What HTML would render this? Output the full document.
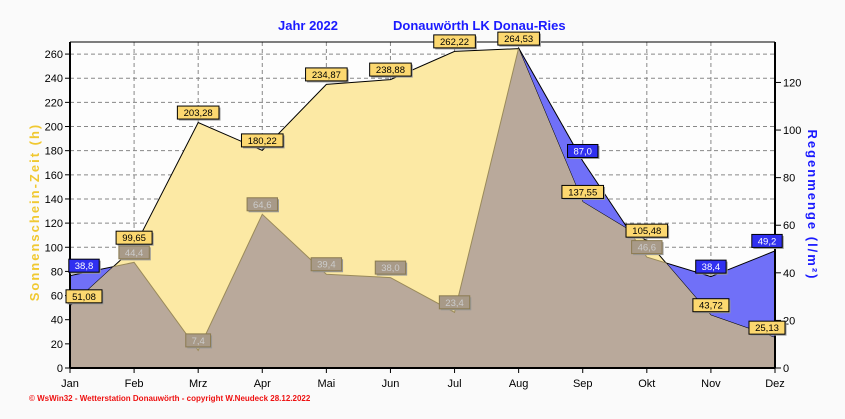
<!DOCTYPE html>
<html><head><meta charset="utf-8"><style>
body{margin:0;background:#fafafa;font-family:"Liberation Sans",sans-serif}
svg{display:block}
</style></head><body>
<svg id="chart" width="845" height="419" viewBox="0 0 845 419" xmlns="http://www.w3.org/2000/svg">
<rect x="0" y="0" width="845" height="419" fill="#fafafa"/>
<rect x="70" y="42" width="705" height="326" fill="#fdfdfd"/>
<text x="278" y="30" font-size="13" font-weight="bold" fill="#1a1aff">Jahr  2022</text>
<text x="393" y="30" font-size="13" font-weight="bold" fill="#1a1aff">Donauwörth LK Donau-Ries</text>
<g id="grid"></g>
<g id="areas"></g>
<g id="axes"></g>
<g id="labels"></g>
<text transform="translate(39,212) rotate(-90)" text-anchor="middle" font-size="13" font-weight="bold" letter-spacing="2" fill="#f0c830">Sonnenschein-Zeit  (h)</text>
<text transform="translate(808,205) rotate(90)" text-anchor="middle" font-size="13" font-weight="bold" letter-spacing="2" fill="#1a1aff">Regenmenge  (l/m²)</text>
<text x="29" y="401" font-size="8" font-weight="bold" fill="#ee1111">© WsWin32 - Wetterstation Donauwörth - copyright W.Neudeck  28.12.2022</text>
</svg>
<script>
const months=["Jan","Feb","Mrz","Apr","Mai","Jun","Jul","Aug","Sep","Okt","Nov","Dez"];
const sunHours=[51.08,99.65,203.28,180.22,234.87,238.88,262.22,264.53,137.55,105.48,43.72,25.13];
const rainMm=[38.8,44.4,7.4,64.6,39.4,38.0,23.4,134.5,87.0,46.6,38.4,49.2];
const sunLabels=["51,08","99,65","203,28","180,22","234,87","238,88","262,22","264,53","137,55","105,48","43,72","25,13"];
const rainLabels=["38,8","44,4","7,4","64,6","39,4","38,0","23,4","","87,0","46,6","38,4","49,2"];
const leftTicks=[0,20,40,60,80,100,120,140,160,180,200,220,240,260];
const rightTicks=[0,20,40,60,80,100,120];
const NS="http://www.w3.org/2000/svg";
const X0=70,X1=775,Y0=368,Y1=42,LMAX=270,RMAX=137;
const x=i=>X0+i*(X1-X0)/(months.length-1);
const yL=v=>Y0-v/LMAX*(Y0-Y1);
const yR=v=>Y0-v/RMAX*(Y0-Y1);
function mk(tag,attrs,parent,txt){const e=document.createElementNS(NS,tag);for(const k in attrs)e.setAttribute(k,attrs[k]);if(txt!==undefined)e.textContent=txt;parent.appendChild(e);return e;}
const grid=document.getElementById('grid'),areas=document.getElementById('areas'),axes=document.getElementById('axes'),labels=document.getElementById('labels');
leftTicks.forEach(v=>{if(v>0){const l=mk('line',{x1:X0,x2:X1,y1:yL(v),y2:yL(v),stroke:'#888','stroke-dasharray':'4,3'},grid);}});
months.forEach((m,i)=>{if(i>0&&i<months.length-1){const l=mk('line',{x1:x(i),x2:x(i),y1:Y1,y2:Y0,stroke:'#888','stroke-dasharray':'4,3'},grid);}});
const sunPts=sunHours.map((v,i)=>x(i)+','+yL(v)).join(' ');
const rainPts=rainMm.map((v,i)=>x(i)+','+yR(v)).join(' ');
const sunPoly=`${X0},${Y0} ${sunPts} ${X1},${Y0}`;
const rainPoly=`${X0},${Y0} ${rainPts} ${X1},${Y0}`;
const defs=mk('defs',{},areas);
const cp=mk('clipPath',{id:'sunclip'},defs);
mk('polygon',{points:sunPoly},cp);
const ra=mk('polygon',{points:rainPoly,fill:'#7070f8',stroke:'#000','stroke-width':1},areas);


const sa=mk('polygon',{points:sunPoly,fill:'#fce9a4',stroke:'#000','stroke-width':1},areas);


const ov=mk('polygon',{points:rainPoly,fill:'#b9a99b','clip-path':'url(#sunclip)',stroke:'#9a8a5a','stroke-width':1},areas);


const la=mk('line',{x1:X0,x2:X0,y1:Y1,y2:Y0,stroke:'#000','stroke-width':2},axes);

const ra2=mk('line',{x1:X1,x2:X1,y1:Y1,y2:Y0,stroke:'#000','stroke-width':2},axes);

const ba=mk('line',{x1:X0,x2:X1,y1:Y0,y2:Y0,stroke:'#000','stroke-width':2},axes);

mk('line',{x1:X0,x2:X1,y1:Y1,y2:Y1,stroke:'#000','stroke-width':1},axes);
leftTicks.forEach(v=>{mk('line',{x1:X0-5,x2:X0,y1:yL(v),y2:yL(v),stroke:'#000'},axes);
const t=mk('text',{x:X0-7,y:yL(v)+4,'text-anchor':'end','font-size':11,fill:'#000'},axes,String(v));
});
rightTicks.forEach(v=>{mk('line',{x1:X1,x2:X1+6,y1:yR(v),y2:yR(v),stroke:'#000'},axes);
const t=mk('text',{x:X1+8,y:yR(v)+4,'font-size':11,fill:'#000'},axes,String(v));
});
months.forEach((m,i)=>{mk('line',{x1:x(i),x2:x(i),y1:Y0,y2:Y0+5,stroke:'#000'},axes);
const t=mk('text',{x:x(i),y:Y0+19,'text-anchor':'middle','font-size':11,fill:'#000'},axes,m);
});
function box(cx,cy,txt,fill,stroke,tc,name){const w=txt.length*5.6+8;
const g=mk('g',{},labels);


mk('rect',{x:cx-w/2+1.5,y:cy-6.5+1.5,width:w,height:13,fill:'#999'},g);
mk('rect',{x:cx-w/2,y:cy-6.5,width:w,height:13,fill:fill,stroke:stroke},g);
mk('text',{x:cx,y:cy+3.5,'text-anchor':'middle','font-size':9.5,fill:tc},g,txt);}
rainMm.forEach((v,i)=>{if(!rainLabels[i])return;const inside=v<sunHours[i]*RMAX/LMAX;
const cx=Math.min(Math.max(x(i),X0+14),X1-8),cy=yR(v)-10;
if(inside)box(cx,cy,rainLabels[i],'#a89a88','#8a7a50','#ccc','rain-value-label');
else box(cx,cy,rainLabels[i],'#3030f0','#000','#fff','rain-value-label');});
sunHours.forEach((v,i)=>{const cx=Math.min(Math.max(x(i),X0+14),X1-8);box(cx,yL(v)-10,sunLabels[i],'#fcd870','#000','#000','sun-value-label');});
</script>
</body></html>
